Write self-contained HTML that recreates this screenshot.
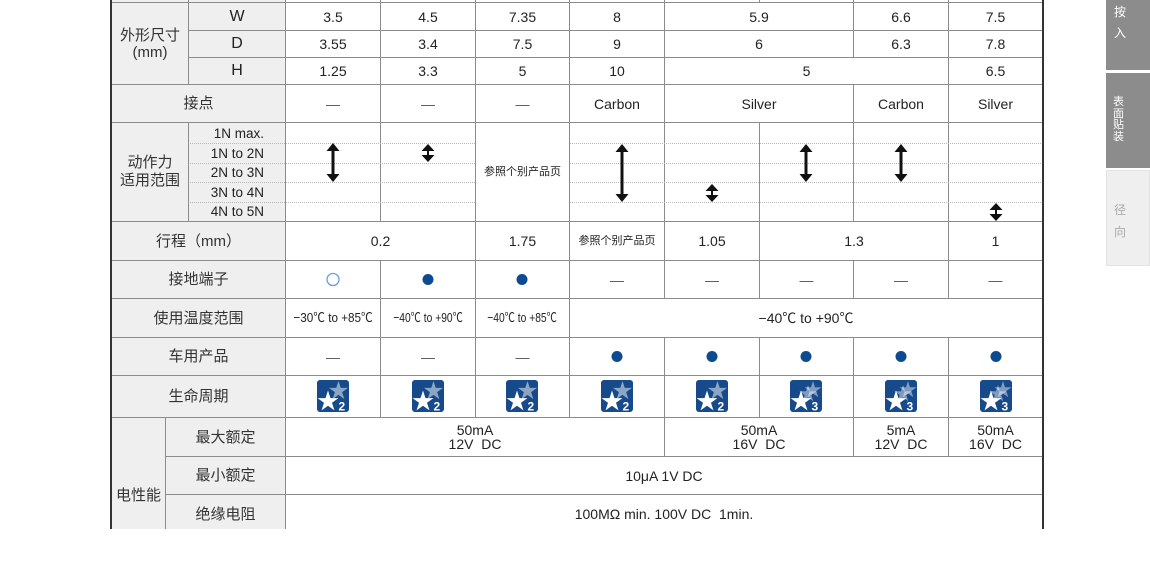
<!DOCTYPE html>
<html><head><meta charset="utf-8">
<style>
html,body{margin:0;padding:0;background:#fff;}
body{width:1150px;height:529px;overflow:hidden;position:relative;font-family:"Liberation Sans","Noto Sans CJK SC",sans-serif;color:#222;}
.t{position:absolute;display:flex;align-items:center;justify-content:center;text-align:center;white-space:nowrap;font-size:14px;line-height:16px;}
.l{font-size:15px;color:#333;line-height:17px;}
.s{font-size:11px;}
.d{color:#555;}
.sb{position:absolute;left:1106px;width:44px;}
.sbt{position:absolute;left:1114px;font-size:12px;line-height:12px;}
</style></head><body>
<div style="position:absolute;left:112px;top:0;width:173px;height:529px;background:#efefef"></div>
<div class="sb" style="top:0;height:70px;background:#8c8c8c"></div>
<div class="sb" style="top:73px;height:95px;background:#8c8c8c"></div>
<div class="sb" style="top:170px;height:96px;background:#efefef;border:1px solid #e2e2e2;box-sizing:border-box"></div>
<div class="sbt" style="top:6px;color:#fff">按</div>
<div class="sbt" style="top:27px;color:#fff">入</div>
<div class="sbt" style="top:97px;left:1113px;color:#fff;font-size:11px;line-height:11.5px">表<br>面<br>贴<br>装</div>
<div class="sbt" style="top:204px;color:#aaa">径</div>
<div class="sbt" style="top:226px;color:#aaa">向</div>

<svg width="1150" height="529" style="position:absolute;left:0;top:0" xmlns="http://www.w3.org/2000/svg">
<g fill="#8c8c8c">
<rect x="188" y="0" width="1" height="84"/><rect x="188" y="122" width="1" height="99"/>
<rect x="165" y="417" width="1" height="112"/>
<rect x="285" y="0" width="1" height="529"/>
<rect x="380" y="0" width="1" height="221"/><rect x="380" y="260" width="1" height="157"/>
<rect x="475" y="0" width="1" height="417"/>
<rect x="569" y="0" width="1" height="417"/>
<rect x="664" y="0" width="1" height="298"/><rect x="664" y="337" width="1" height="119"/>
<rect x="759" y="0" width="1" height="2"/><rect x="759" y="122" width="1" height="176"/><rect x="759" y="337" width="1" height="80"/>
<rect x="853" y="0" width="1" height="57"/><rect x="853" y="84" width="1" height="137"/><rect x="853" y="260" width="1" height="38"/><rect x="853" y="337" width="1" height="119"/>
<rect x="948" y="0" width="1" height="298"/><rect x="948" y="337" width="1" height="119"/>
<rect x="112" y="2" width="930" height="1"/>
<rect x="188" y="30" width="854" height="1"/>
<rect x="188" y="57" width="854" height="1"/>
<rect x="112" y="84" width="930" height="1"/>
<rect x="112" y="122" width="930" height="1"/>
<rect x="112" y="221" width="930" height="1"/>
<rect x="112" y="260" width="930" height="1"/>
<rect x="112" y="298" width="930" height="1"/>
<rect x="112" y="337" width="930" height="1"/>
<rect x="112" y="375" width="930" height="1"/>
<rect x="112" y="417" width="930" height="1"/>
<rect x="165" y="456" width="877" height="1"/>
<rect x="165" y="494" width="877" height="1"/>
</g>
<rect x="110" y="0" width="2" height="529" fill="#333"/>
<rect x="1042" y="0" width="2" height="529" fill="#333"/>
<g stroke="#b8b8b8" stroke-width="1" stroke-dasharray="1,1">
<line x1="190" y1="143.5" x2="285" y2="143.5"/><line x1="286" y1="143.5" x2="475" y2="143.5"/><line x1="570" y1="143.5" x2="1042" y2="143.5"/>
<line x1="190" y1="163.5" x2="285" y2="163.5"/><line x1="286" y1="163.5" x2="475" y2="163.5"/><line x1="570" y1="163.5" x2="1042" y2="163.5"/>
<line x1="190" y1="182.5" x2="285" y2="182.5"/><line x1="286" y1="182.5" x2="475" y2="182.5"/><line x1="570" y1="182.5" x2="1042" y2="182.5"/>
<line x1="190" y1="202.5" x2="285" y2="202.5"/><line x1="286" y1="202.5" x2="475" y2="202.5"/><line x1="570" y1="202.5" x2="1042" y2="202.5"/>
</g>
<g fill="#111">
<polygon points="333,143 326.5,151 339.5,151"/><rect x="331.5" y="150" width="3" height="25"/><polygon points="333,182 326.5,174 339.5,174"/>
<polygon points="622,144 615.5,152 628.5,152"/><rect x="620.5" y="151" width="3" height="44"/><polygon points="622,202 615.5,194 628.5,194"/>
<polygon points="806,144 799.5,152 812.5,152"/><rect x="804.5" y="151" width="3" height="24"/><polygon points="806,182 799.5,174 812.5,174"/>
<polygon points="901,144 894.5,152 907.5,152"/><rect x="899.5" y="151" width="3" height="24"/><polygon points="901,182 894.5,174 907.5,174"/>
<polygon points="428,144 421.5,151 434.5,151"/><rect x="427" y="151" width="2" height="4"/><polygon points="428,162 421.5,155 434.5,155"/>
<polygon points="712,184 705.5,191 718.5,191"/><rect x="711" y="191" width="2" height="4"/><polygon points="712,202 705.5,195 718.5,195"/>
<polygon points="996,203 989.5,210 1002.5,210"/><rect x="995" y="210" width="2" height="4"/><polygon points="996,221 989.5,214 1002.5,214"/>
</g>
<circle cx="333" cy="279.5" r="6" fill="none" stroke="#6d9cd6" stroke-width="1.3"/>
<g fill="#0d4a8f">
<circle cx="428" cy="279.5" r="5.5"/><circle cx="522" cy="279.5" r="5.5"/>
<circle cx="617" cy="356.5" r="5.5"/><circle cx="712" cy="356.5" r="5.5"/><circle cx="806" cy="356.5" r="5.5"/><circle cx="901" cy="356.5" r="5.5"/><circle cx="996" cy="356.5" r="5.5"/>
</g>
<g transform="translate(317,380)"><rect width="32" height="32" rx="3" fill="#174a8b"/><polygon transform="translate(21.5,11) scale(10)" fill="#fff" fill-opacity="0.5" points="0,-1 0.2245,-0.309 0.951,-0.309 0.363,0.118 0.588,0.809 0,0.382 -0.588,0.809 -0.363,0.118 -0.951,-0.309 -0.2245,-0.309"/><polygon transform="translate(11,21.5) scale(11)" fill="#fff" points="0,-1 0.2245,-0.309 0.951,-0.309 0.363,0.118 0.588,0.809 0,0.382 -0.588,0.809 -0.363,0.118 -0.951,-0.309 -0.2245,-0.309"/><text x="21.5" y="30.5" font-size="12" font-weight="bold" fill="#fff" font-family="Liberation Sans,sans-serif">2</text></g>
<g transform="translate(412,380)"><rect width="32" height="32" rx="3" fill="#174a8b"/><polygon transform="translate(21.5,11) scale(10)" fill="#fff" fill-opacity="0.5" points="0,-1 0.2245,-0.309 0.951,-0.309 0.363,0.118 0.588,0.809 0,0.382 -0.588,0.809 -0.363,0.118 -0.951,-0.309 -0.2245,-0.309"/><polygon transform="translate(11,21.5) scale(11)" fill="#fff" points="0,-1 0.2245,-0.309 0.951,-0.309 0.363,0.118 0.588,0.809 0,0.382 -0.588,0.809 -0.363,0.118 -0.951,-0.309 -0.2245,-0.309"/><text x="21.5" y="30.5" font-size="12" font-weight="bold" fill="#fff" font-family="Liberation Sans,sans-serif">2</text></g>
<g transform="translate(506,380)"><rect width="32" height="32" rx="3" fill="#174a8b"/><polygon transform="translate(21.5,11) scale(10)" fill="#fff" fill-opacity="0.5" points="0,-1 0.2245,-0.309 0.951,-0.309 0.363,0.118 0.588,0.809 0,0.382 -0.588,0.809 -0.363,0.118 -0.951,-0.309 -0.2245,-0.309"/><polygon transform="translate(11,21.5) scale(11)" fill="#fff" points="0,-1 0.2245,-0.309 0.951,-0.309 0.363,0.118 0.588,0.809 0,0.382 -0.588,0.809 -0.363,0.118 -0.951,-0.309 -0.2245,-0.309"/><text x="21.5" y="30.5" font-size="12" font-weight="bold" fill="#fff" font-family="Liberation Sans,sans-serif">2</text></g>
<g transform="translate(601,380)"><rect width="32" height="32" rx="3" fill="#174a8b"/><polygon transform="translate(21.5,11) scale(10)" fill="#fff" fill-opacity="0.5" points="0,-1 0.2245,-0.309 0.951,-0.309 0.363,0.118 0.588,0.809 0,0.382 -0.588,0.809 -0.363,0.118 -0.951,-0.309 -0.2245,-0.309"/><polygon transform="translate(11,21.5) scale(11)" fill="#fff" points="0,-1 0.2245,-0.309 0.951,-0.309 0.363,0.118 0.588,0.809 0,0.382 -0.588,0.809 -0.363,0.118 -0.951,-0.309 -0.2245,-0.309"/><text x="21.5" y="30.5" font-size="12" font-weight="bold" fill="#fff" font-family="Liberation Sans,sans-serif">2</text></g>
<g transform="translate(696,380)"><rect width="32" height="32" rx="3" fill="#174a8b"/><polygon transform="translate(21.5,11) scale(10)" fill="#fff" fill-opacity="0.5" points="0,-1 0.2245,-0.309 0.951,-0.309 0.363,0.118 0.588,0.809 0,0.382 -0.588,0.809 -0.363,0.118 -0.951,-0.309 -0.2245,-0.309"/><polygon transform="translate(11,21.5) scale(11)" fill="#fff" points="0,-1 0.2245,-0.309 0.951,-0.309 0.363,0.118 0.588,0.809 0,0.382 -0.588,0.809 -0.363,0.118 -0.951,-0.309 -0.2245,-0.309"/><text x="21.5" y="30.5" font-size="12" font-weight="bold" fill="#fff" font-family="Liberation Sans,sans-serif">2</text></g>
<g transform="translate(790,380)"><rect width="32" height="32" rx="3" fill="#174a8b"/><polygon transform="translate(23,10) scale(9)" fill="#fff" fill-opacity="0.45" points="0,-1 0.2245,-0.309 0.951,-0.309 0.363,0.118 0.588,0.809 0,0.382 -0.588,0.809 -0.363,0.118 -0.951,-0.309 -0.2245,-0.309"/><polygon transform="translate(18,14) scale(9)" fill="#fff" fill-opacity="0.45" points="0,-1 0.2245,-0.309 0.951,-0.309 0.363,0.118 0.588,0.809 0,0.382 -0.588,0.809 -0.363,0.118 -0.951,-0.309 -0.2245,-0.309"/><polygon transform="translate(11,21.5) scale(11)" fill="#fff" points="0,-1 0.2245,-0.309 0.951,-0.309 0.363,0.118 0.588,0.809 0,0.382 -0.588,0.809 -0.363,0.118 -0.951,-0.309 -0.2245,-0.309"/><text x="21.5" y="30.5" font-size="12" font-weight="bold" fill="#fff" font-family="Liberation Sans,sans-serif">3</text></g>
<g transform="translate(885,380)"><rect width="32" height="32" rx="3" fill="#174a8b"/><polygon transform="translate(23,10) scale(9)" fill="#fff" fill-opacity="0.45" points="0,-1 0.2245,-0.309 0.951,-0.309 0.363,0.118 0.588,0.809 0,0.382 -0.588,0.809 -0.363,0.118 -0.951,-0.309 -0.2245,-0.309"/><polygon transform="translate(18,14) scale(9)" fill="#fff" fill-opacity="0.45" points="0,-1 0.2245,-0.309 0.951,-0.309 0.363,0.118 0.588,0.809 0,0.382 -0.588,0.809 -0.363,0.118 -0.951,-0.309 -0.2245,-0.309"/><polygon transform="translate(11,21.5) scale(11)" fill="#fff" points="0,-1 0.2245,-0.309 0.951,-0.309 0.363,0.118 0.588,0.809 0,0.382 -0.588,0.809 -0.363,0.118 -0.951,-0.309 -0.2245,-0.309"/><text x="21.5" y="30.5" font-size="12" font-weight="bold" fill="#fff" font-family="Liberation Sans,sans-serif">3</text></g>
<g transform="translate(980,380)"><rect width="32" height="32" rx="3" fill="#174a8b"/><polygon transform="translate(23,10) scale(9)" fill="#fff" fill-opacity="0.45" points="0,-1 0.2245,-0.309 0.951,-0.309 0.363,0.118 0.588,0.809 0,0.382 -0.588,0.809 -0.363,0.118 -0.951,-0.309 -0.2245,-0.309"/><polygon transform="translate(18,14) scale(9)" fill="#fff" fill-opacity="0.45" points="0,-1 0.2245,-0.309 0.951,-0.309 0.363,0.118 0.588,0.809 0,0.382 -0.588,0.809 -0.363,0.118 -0.951,-0.309 -0.2245,-0.309"/><polygon transform="translate(11,21.5) scale(11)" fill="#fff" points="0,-1 0.2245,-0.309 0.951,-0.309 0.363,0.118 0.588,0.809 0,0.382 -0.588,0.809 -0.363,0.118 -0.951,-0.309 -0.2245,-0.309"/><text x="21.5" y="30.5" font-size="12" font-weight="bold" fill="#fff" font-family="Liberation Sans,sans-serif">3</text></g>
</svg>

<div class="t l" style="left:112px;top:3px;width:76px;height:81px">外形尺寸<br>(mm)</div>
<div class="t" style="left:189px;top:3px;width:96px;height:27px;font-size:16px">W</div>
<div class="t" style="left:189px;top:31px;width:96px;height:26px;font-size:16px">D</div>
<div class="t" style="left:189px;top:58px;width:96px;height:26px;font-size:16px">H</div>
<div class="t l" style="left:112px;top:85px;width:173px;height:37px">接点</div>
<div class="t l" style="left:112px;top:123px;width:76px;height:98px;line-height:18px">动作力<br>适用范围</div>
<div class="t" style="left:189px;top:124px;width:75px;height:19px;justify-content:flex-end;font-size:13.5px">1N max.</div>
<div class="t" style="left:189px;top:144px;width:75px;height:19px;justify-content:flex-end;font-size:13.5px">1N to 2N</div>
<div class="t" style="left:189px;top:164px;width:75px;height:18px;justify-content:flex-end;font-size:13.5px">2N to 3N</div>
<div class="t" style="left:189px;top:183px;width:75px;height:19px;justify-content:flex-end;font-size:13.5px">3N to 4N</div>
<div class="t" style="left:189px;top:203px;width:75px;height:18px;justify-content:flex-end;font-size:13.5px">4N to 5N</div>
<div class="t l" style="left:112px;top:222px;width:173px;height:38px">行程（mm）</div>
<div class="t l" style="left:112px;top:261px;width:173px;height:37px">接地端子</div>
<div class="t l" style="left:112px;top:299px;width:173px;height:38px">使用温度范围</div>
<div class="t l" style="left:112px;top:338px;width:173px;height:37px">车用产品</div>
<div class="t l" style="left:112px;top:376px;width:173px;height:41px">生命周期</div>
<div class="t l" style="left:112px;top:418px;width:53px;height:154px">电性能</div>
<div class="t l" style="left:166px;top:418px;width:119px;height:38px">最大额定</div>
<div class="t l" style="left:166px;top:457px;width:119px;height:37px">最小额定</div>
<div class="t l" style="left:166px;top:495px;width:119px;height:38px">绝缘电阻</div>

<div class="t" style="left:286px;top:3px;width:94px;height:27px">3.5</div>
<div class="t" style="left:381px;top:3px;width:94px;height:27px">4.5</div>
<div class="t" style="left:476px;top:3px;width:93px;height:27px">7.35</div>
<div class="t" style="left:570px;top:3px;width:94px;height:27px">8</div>
<div class="t" style="left:665px;top:3px;width:188px;height:27px">5.9</div>
<div class="t" style="left:854px;top:3px;width:94px;height:27px">6.6</div>
<div class="t" style="left:949px;top:3px;width:93px;height:27px">7.5</div>
<div class="t" style="left:286px;top:31px;width:94px;height:26px">3.55</div>
<div class="t" style="left:381px;top:31px;width:94px;height:26px">3.4</div>
<div class="t" style="left:476px;top:31px;width:93px;height:26px">7.5</div>
<div class="t" style="left:570px;top:31px;width:94px;height:26px">9</div>
<div class="t" style="left:665px;top:31px;width:188px;height:26px">6</div>
<div class="t" style="left:854px;top:31px;width:94px;height:26px">6.3</div>
<div class="t" style="left:949px;top:31px;width:93px;height:26px">7.8</div>
<div class="t" style="left:286px;top:58px;width:94px;height:26px">1.25</div>
<div class="t" style="left:381px;top:58px;width:94px;height:26px">3.3</div>
<div class="t" style="left:476px;top:58px;width:93px;height:26px">5</div>
<div class="t" style="left:570px;top:58px;width:94px;height:26px">10</div>
<div class="t" style="left:665px;top:58px;width:283px;height:26px">5</div>
<div class="t" style="left:949px;top:58px;width:93px;height:26px">6.5</div>
<div class="t d" style="left:286px;top:85px;width:94px;height:37px">—</div>
<div class="t d" style="left:381px;top:85px;width:94px;height:37px">—</div>
<div class="t d" style="left:476px;top:85px;width:93px;height:37px">—</div>
<div class="t" style="left:570px;top:85px;width:94px;height:37px">Carbon</div>
<div class="t" style="left:665px;top:85px;width:188px;height:37px">Silver</div>
<div class="t" style="left:854px;top:85px;width:94px;height:37px">Carbon</div>
<div class="t" style="left:949px;top:85px;width:93px;height:37px">Silver</div>
<div class="t s" style="left:476px;top:123px;width:93px;height:98px">参照个别产品页</div>
<div class="t" style="left:286px;top:222px;width:189px;height:38px">0.2</div>
<div class="t" style="left:476px;top:222px;width:93px;height:38px">1.75</div>
<div class="t s" style="left:570px;top:222px;width:94px;height:38px">参照个别产品页</div>
<div class="t" style="left:665px;top:222px;width:94px;height:38px">1.05</div>
<div class="t" style="left:760px;top:222px;width:188px;height:38px">1.3</div>
<div class="t" style="left:949px;top:222px;width:93px;height:38px">1</div>
<div class="t d" style="left:570px;top:261px;width:94px;height:37px">—</div>
<div class="t d" style="left:665px;top:261px;width:94px;height:37px">—</div>
<div class="t d" style="left:760px;top:261px;width:93px;height:37px">—</div>
<div class="t d" style="left:854px;top:261px;width:94px;height:37px">—</div>
<div class="t d" style="left:949px;top:261px;width:93px;height:37px">—</div>
<div class="t" style="left:286px;top:299px;width:94px;height:38px;font-size:13px"><span style="display:inline-block;transform:scaleX(0.9)">−30℃ to +85℃</span></div>
<div class="t" style="left:381px;top:299px;width:94px;height:38px;font-size:13px"><span style="display:inline-block;transform:scaleX(0.79)">−40℃ to +90℃</span></div>
<div class="t" style="left:476px;top:299px;width:93px;height:38px;font-size:13px"><span style="display:inline-block;transform:scaleX(0.79)">−40℃ to +85℃</span></div>
<div class="t" style="left:570px;top:299px;width:472px;height:38px">−40℃ to +90℃</div>
<div class="t d" style="left:286px;top:338px;width:94px;height:37px">—</div>
<div class="t d" style="left:381px;top:338px;width:94px;height:37px">—</div>
<div class="t d" style="left:476px;top:338px;width:93px;height:37px">—</div>
<div class="t" style="left:286px;top:418px;width:378px;height:38px;line-height:14px">50mA<br>12V&nbsp;&nbsp;DC</div>
<div class="t" style="left:665px;top:418px;width:188px;height:38px;line-height:14px">50mA<br>16V&nbsp;&nbsp;DC</div>
<div class="t" style="left:854px;top:418px;width:94px;height:38px;line-height:14px">5mA<br>12V&nbsp;&nbsp;DC</div>
<div class="t" style="left:949px;top:418px;width:93px;height:38px;line-height:14px">50mA<br>16V&nbsp;&nbsp;DC</div>
<div class="t" style="left:286px;top:457px;width:756px;height:37px">10μA 1V DC</div>
<div class="t" style="left:286px;top:495px;width:756px;height:38px">100MΩ min. 100V DC&nbsp;&nbsp;1min.</div>
</body></html>
